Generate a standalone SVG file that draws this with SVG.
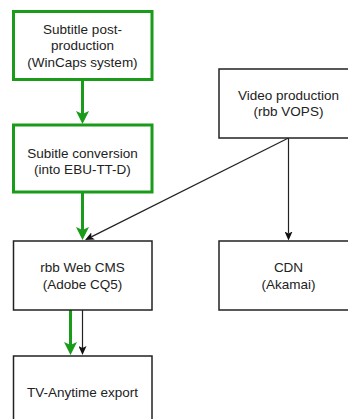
<svg xmlns="http://www.w3.org/2000/svg" width="348" height="419" viewBox="0 0 348 419">
<style>
  .g { fill: #ffffff; stroke: #1a9b1a; stroke-width: 3; }
  .b { fill: #ffffff; stroke: #222222; stroke-width: 1.5; }
  text { font-family: "Liberation Sans", Arial, sans-serif; font-size: 13.5px; fill: #222222; text-anchor: middle; }
  .cg { stroke: #1a9b1a; stroke-width: 3; fill: none; }
  .cb { stroke: #222222; stroke-width: 1.2; fill: none; }
</style>
<defs>
  <marker id="ag" markerUnits="userSpaceOnUse" markerWidth="13" markerHeight="13" viewBox="0 0 13 13" refX="3" refY="6.5" orient="auto">
    <path d="M0,0 L13,6.5 L0,13 L3,6.5 z" fill="#1a9b1a"/>
  </marker>
  <marker id="ab" markerUnits="userSpaceOnUse" markerWidth="9" markerHeight="8" viewBox="0 0 9 8" refX="2" refY="4" orient="auto">
    <path d="M0,0 L9,4 L0,8 L2,4 z" fill="#111111"/>
  </marker>
</defs>
<rect width="348" height="419" fill="#ffffff"/>
<g id="connectors">
  <line class="cg" x1="82.5" y1="80" x2="82.5" y2="114" marker-end="url(#ag)"/>
  <line class="cg" x1="82.5" y1="192" x2="82.5" y2="230" marker-end="url(#ag)"/>
  <line class="cb" x1="288.5" y1="138" x2="91.3" y2="236.9" marker-end="url(#ab)"/>
  <line class="cb" x1="288.5" y1="138" x2="288.5" y2="233.5" marker-end="url(#ab)"/>
  <line class="cg" x1="70.5" y1="310" x2="70.5" y2="345" marker-end="url(#ag)"/>
  <line class="cb" x1="82.5" y1="310" x2="82.5" y2="348" marker-end="url(#ab)"/>
</g>
<g id="subtitle-post-production">
  <rect class="g" x="13.5" y="11.5" width="138.5" height="68"/>
  <text x="82.5" y="33.5">Subtitle post-</text>
  <text x="82.5" y="50">production</text>
  <text x="82.5" y="66.5">(WinCaps system)</text>
</g>
<g id="subtitle-conversion">
  <rect class="g" x="13.5" y="125" width="138.5" height="67"/>
  <text x="82.5" y="157.5">Subitle conversion</text>
  <text x="82.5" y="174">(into EBU-TT-D)</text>
</g>
<g id="rbb-web-cms">
  <rect class="b" x="13.5" y="241" width="138.5" height="69"/>
  <text x="82.5" y="272">rbb Web CMS</text>
  <text x="82.5" y="288.5">(Adobe CQ5)</text>
</g>
<g id="tv-anytime-export">
  <rect class="b" x="13.5" y="356" width="138.5" height="72"/>
  <text x="82.5" y="396.5">TV-Anytime export</text>
</g>
<g id="video-production">
  <rect class="b" x="219" y="69" width="139" height="69"/>
  <text x="288.5" y="99.5">Video production</text>
  <text x="288.5" y="116">(rbb VOPS)</text>
</g>
<g id="cdn">
  <rect class="b" x="219" y="241" width="139" height="69"/>
  <text x="288.5" y="272">CDN</text>
  <text x="288.5" y="288.5">(Akamai)</text>
</g>
</svg>
